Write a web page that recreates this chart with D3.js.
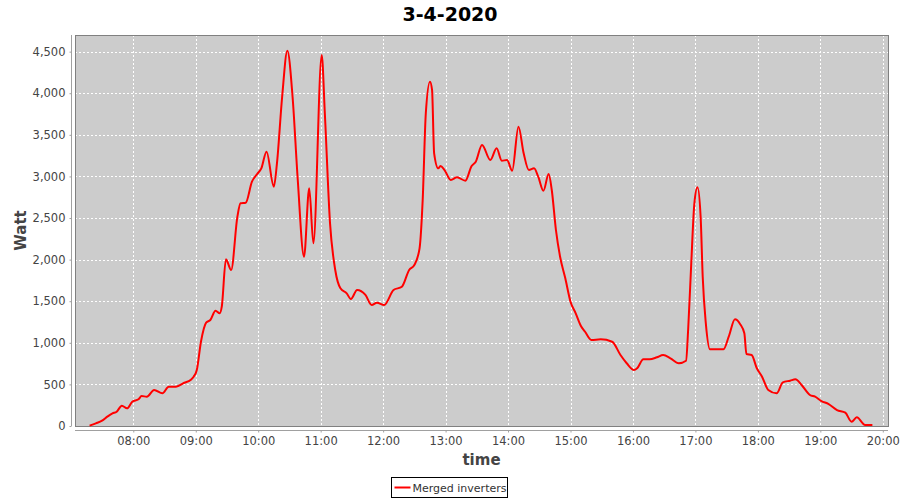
<html>
<head>
<script src="https://d3js.org/d3.v7.min.js"></script>
<style>
  body { margin: 0; background: #fff; }
  text { font-family: "DejaVu Sans", sans-serif; }
</style>
</head>
<body>
<svg id="chart" width="900" height="500"></svg>
<script>
// readings of the merged inverters, 3-4-2020
var times = ["07:18","07:24","07:30","07:35","07:40","07:44","07:49","07:54","07:59","08:05",
  "08:08","08:13","08:20","08:28","08:34","08:41","08:49","08:55","08:58","09:01",
  "09:05","09:10","09:14","09:19","09:23","09:25","09:29","09:34","09:40","09:43",
  "09:48","09:54","09:59","10:03","10:08","10:15","10:18","10:23","10:28","10:33",
  "10:38","10:44","10:49","10:53","11:01","11:04","11:09","11:14","11:19","11:25",
  "11:29","11:35","11:43","11:49","11:54","12:01","12:10","12:18","12:25","12:30",
  "12:35","12:38","12:41","12:45","12:47","12:49","12:53","12:55","12:59","13:05",
  "13:11","13:19","13:25","13:29","13:35","13:43","13:49","13:54","13:59","14:04",
  "14:10","14:15","14:20","14:25","14:29","14:34","14:39","14:42","14:46","14:50",
  "14:55","15:00","15:05","15:10","15:14","15:20","15:29","15:40","15:48","15:54",
  "16:01","16:04","16:10","16:16","16:23","16:29","16:36","16:44","16:51","16:53",
  "16:56","16:59","17:02","17:05","17:07","17:10","17:14","17:20","17:27","17:32",
  "17:38","17:43","17:47","17:49","17:54","17:59","18:04","18:10","18:18","18:24",
  "18:31","18:36","18:42","18:50","18:55","19:01","19:08","19:16","19:24","19:30",
  "19:35","19:43","19:50"];
var watts = [5,32,64,112,152,172,244,212,292,321,
  360,352,433,393,472,472,520,553,593,673,
  1013,1242,1274,1386,1354,1434,2004,1875,2516,2677,
  2684,2937,3029,3097,3297,2876,3157,3958,4511,3958,
  2957,2035,2857,2196,4459,3759,2436,1875,1655,1595,
  1526,1635,1575,1454,1482,1454,1635,1674,1875,1935,
  2136,2716,3759,4139,4039,3278,3097,3125,3077,2957,
  2989,2949,3125,3177,3378,3197,3338,3189,3197,3069,
  3598,3278,3077,3097,2997,2828,3029,2837,2356,2035,
  1775,1494,1354,1202,1133,1034,1042,1013,853,754,
  673,694,802,802,826,853,814,754,785,1154,
  1956,2677,2869,2516,1794,1234,922,922,922,1073,
  1282,1224,1114,865,853,694,593,433,393,525,
  545,561,493,373,352,300,264,192,160,52,
  104,12,12];
var yTicks = [0,500,1000,1500,2000,2500,3000,3500,4000,4500];
var xTicks = ["08:00","09:00","10:00","11:00","12:00","13:00","14:00","15:00","16:00","17:00","18:00","19:00","20:00"];
var seriesName = "Merged inverters";

var parse = d3.timeParse("%H:%M");
var data = times.map(function(t, i) { return {t: parse(t), v: watts[i]}; });

var pLeft = 75, pRight = 888, pTop = 35, pBottom = 426;

var x = d3.scaleTime()
  .domain([parse("07:04"), parse("20:05")])
  .range([pLeft, pRight]);
var y = d3.scaleLinear().domain([0, 4700]).range([pBottom, pTop]);

var svg = d3.select("#chart");

// plot background
svg.append("rect")
  .attr("x", pLeft).attr("y", pTop)
  .attr("width", pRight - pLeft).attr("height", pBottom - pTop)
  .attr("fill", "#cccccc");

// grid
svg.append("g").selectAll("line")
  .data(xTicks.map(parse))
  .enter().append("line")
  .attr("x1", function(d) { return Math.round(x(d)) + 0.5; })
  .attr("x2", function(d) { return Math.round(x(d)) + 0.5; })
  .attr("y1", pTop).attr("y2", pBottom)
  .attr("stroke", "#ffffff").attr("stroke-width", 1)
  .attr("stroke-dasharray", "2,2");

svg.append("g").selectAll("line")
  .data(yTicks)
  .enter().append("line")
  .attr("x1", pLeft).attr("x2", pRight)
  .attr("y1", function(d) { return Math.round(y(d)) + 0.5; })
  .attr("y2", function(d) { return Math.round(y(d)) + 0.5; })
  .attr("stroke", "#ffffff").attr("stroke-width", 1)
  .attr("stroke-dasharray", "2,2");

// plot outline
svg.append("rect")
  .attr("x", pLeft + 0.5).attr("y", pTop + 0.5)
  .attr("width", pRight - pLeft).attr("height", pBottom - pTop)
  .attr("fill", "none").attr("stroke", "#808080");

// y axis
var yAxis = svg.append("g")
  .attr("transform", "translate(" + (pLeft - 3.5) + ",0)")
  .call(d3.axisLeft(y).tickValues(yTicks).tickFormat(d3.format(",")).tickSize(2).tickPadding(4));
yAxis.select(".domain").attr("d", "M0," + pTop + "V" + pBottom).attr("stroke", "#a0a0a0");
yAxis.selectAll(".tick line").attr("stroke", "#a0a0a0");
yAxis.selectAll(".tick text").attr("font-size", 11.5).attr("fill", "#444444")
  .attr("font-family", "DejaVu Sans");

// x axis
var xAxis = svg.append("g")
  .attr("transform", "translate(0," + (pBottom + 4.5) + ")")
  .call(d3.axisBottom(x).tickValues(xTicks.map(parse)).tickFormat(d3.timeFormat("%H:%M")).tickSize(2).tickPadding(4));
xAxis.select(".domain").attr("d", "M" + pLeft + ",0H" + pRight).attr("stroke", "#a0a0a0");
xAxis.selectAll(".tick line").attr("stroke", "#a0a0a0");
xAxis.selectAll(".tick text").attr("font-size", 11.5).attr("fill", "#444444")
  .attr("font-family", "DejaVu Sans");

// line
var line = d3.line()
  .x(function(d) { return x(d.t); })
  .y(function(d) { return y(d.v); })
  .curve(d3.curveMonotoneX);

svg.append("path")
  .datum(data)
  .attr("d", line)
  .attr("fill", "none")
  .attr("stroke", "#ff0000")
  .attr("stroke-width", 2)
  .attr("stroke-linejoin", "round");

// title
svg.append("text")
  .attr("x", 450).attr("y", 21)
  .attr("text-anchor", "middle")
  .attr("font-size", 19).attr("font-weight", "bold")
  .attr("fill", "#000")
  .text("3-4-2020");

// axis labels
svg.append("text")
  .attr("x", (pLeft + pRight) / 2).attr("y", 465)
  .attr("text-anchor", "middle")
  .attr("font-size", 15).attr("font-weight", "bold")
  .attr("fill", "#444444")
  .text("time");

svg.append("text")
  .attr("transform", "translate(26," + ((pTop + pBottom) / 2) + ") rotate(-90)")
  .attr("text-anchor", "middle")
  .attr("font-size", 15).attr("font-weight", "bold")
  .attr("fill", "#444444")
  .text("Watt");

// legend
var lg = svg.append("g").attr("transform", "translate(391.5,477.5)");
lg.append("rect")
  .attr("width", 116).attr("height", 20)
  .attr("fill", "#fff").attr("stroke", "#000");
lg.append("line")
  .attr("x1", 3).attr("x2", 19).attr("y1", 10).attr("y2", 10)
  .attr("stroke", "#ff0000").attr("stroke-width", 2);
lg.append("text")
  .attr("x", 21).attr("y", 14.5)
  .attr("font-size", 11).attr("fill", "#333")
  .text(seriesName);
</script>
</body>
</html>
